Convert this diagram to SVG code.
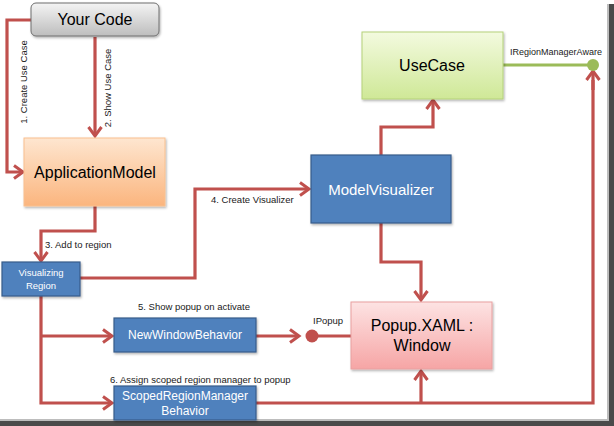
<svg xmlns="http://www.w3.org/2000/svg" width="614" height="426" viewBox="0 0 614 426">
<style>
.c{fill:none;stroke:#c0504d;stroke-width:3.2;stroke-linejoin:miter}
.a{marker-end:url(#arr)}
.t{font-family:"Liberation Sans",Arial,sans-serif;fill:#000}
.lbl{font-family:"Liberation Sans",Arial,sans-serif;font-size:9.5px;fill:#1a1a1a}
.big{font-size:16px;text-anchor:middle}
.wt{font-family:"Liberation Sans",Arial,sans-serif;fill:#fff;text-anchor:middle}
.blue{fill:#4f81bd;stroke:#385d8a;stroke-width:1.2}
</style>
<defs>
<marker id="arr" markerUnits="userSpaceOnUse" markerWidth="12" markerHeight="16" viewBox="0 0 12 16" refX="10" refY="8" orient="auto" overflow="visible">
<path d="M1,1.5 L10,8 L1,14.5" fill="none" stroke="#c0504d" stroke-width="3"/>
</marker>
<linearGradient id="gGray" x1="0" y1="0" x2="0" y2="1"><stop offset="0" stop-color="#f4f4f4"/><stop offset="1" stop-color="#bdbdbd"/></linearGradient>
<linearGradient id="gOr" x1="0" y1="0" x2="0" y2="1"><stop offset="0" stop-color="#fee6d0"/><stop offset="1" stop-color="#fbb57e"/></linearGradient>
<linearGradient id="gGr" x1="0" y1="0" x2="0" y2="1"><stop offset="0" stop-color="#f3fadf"/><stop offset="1" stop-color="#cfe897"/></linearGradient>
<linearGradient id="gPk" x1="0" y1="0" x2="0" y2="1"><stop offset="0" stop-color="#fde3e3"/><stop offset="1" stop-color="#f6a5a5"/></linearGradient>
<filter id="sh" x="-10%" y="-10%" width="130%" height="140%"><feDropShadow dx="1" dy="1.5" stdDeviation="1" flood-color="#000" flood-opacity="0.3"/></filter>
</defs>
<rect width="614" height="426" fill="#fff"/>
<!-- frame -->
<rect x="609" y="4" width="5" height="422" fill="#4a4a4a"/>
<rect x="607" y="4" width="2" height="418" fill="#bdbdbd"/>
<rect x="0" y="421" width="614" height="5" fill="#4a4a4a"/>
<rect x="0" y="419" width="609" height="2" fill="#bdbdbd"/>

<g id="connectors">
<polyline class="c a" points="31,20 7,20 7,172 23,172"/>
<line class="c a" x1="95" y1="37" x2="95" y2="136"/>
<polyline class="c a" points="95,206 95,231 41,231 41,261"/>
<polyline class="c a" points="80,278 195,278 195,189 309,189"/>
<polyline class="c a" points="381,155 381,127 433,127 433,100"/>
<polyline class="c a" points="381,223 381,262 421,262 421,300"/>
<polyline class="c a" points="41,296 41,403 112,403"/>
<polyline class="c a" points="41,336 112,336"/>
<line class="c a" x1="256" y1="336" x2="299" y2="336"/>
<line class="c" x1="312" y1="336" x2="351" y2="336"/>
<polyline class="c" points="256,403 593,403 593,80"/>
<line class="c a" x1="593" y1="90" x2="593" y2="71"/>
<line class="c a" x1="421" y1="403" x2="421" y2="371"/>
<line x1="503" y1="65" x2="593" y2="65" stroke="#9bbb59" stroke-width="3"/>
<circle cx="593" cy="65" r="6" fill="#9bbb59"/>
<circle cx="312" cy="336" r="6.5" fill="#c0504d"/>
<text class="lbl" transform="translate(27,82) rotate(-90)" text-anchor="middle">1. Create Use Case</text>
<text class="lbl" transform="translate(111,88) rotate(-90)" text-anchor="middle">2. Show Use Case</text>
<text class="lbl" x="45" y="248">3. Add to region</text>
<text class="lbl" x="211" y="203">4. Create Visualizer</text>
<text class="lbl" x="138" y="310">5. Show popup  on activate</text>
<text class="lbl" x="110" y="383">6. Assign scoped region manager to popup</text>
<text class="lbl" x="510" y="55" font-size="9" textLength="92" lengthAdjust="spacingAndGlyphs">IRegionManagerAware</text>
<text class="lbl" x="313" y="324">IPopup</text>
</g>

<g id="your-code">
<rect x="31" y="3" width="128" height="33" rx="5" fill="url(#gGray)" stroke="#6f6f6f" stroke-width="1" filter="url(#sh)"/>
<text class="t big" x="95" y="25">Your Code</text>
</g>
<g id="application-model">
<rect x="24" y="138" width="141" height="68" fill="url(#gOr)" stroke="#f9c090" stroke-width="1" filter="url(#sh)"/>
<text class="t big" x="95" y="178" font-size="15">ApplicationModel</text>
</g>
<g id="visualizing-region">
<rect class="blue" x="2" y="262" width="78" height="34" filter="url(#sh)"/>
<text class="wt" x="41" y="276" font-size="9.5">Visualizing</text>
<text class="wt" x="41" y="289" font-size="9.5">Region</text>
</g>
<g id="model-visualizer">
<rect class="blue" x="311" y="155" width="140" height="68" filter="url(#sh)"/>
<text class="wt" x="381" y="195" font-size="15">ModelVisualizer</text>
</g>
<g id="usecase">
<rect x="362" y="32" width="141" height="67" fill="url(#gGr)" stroke="#b5d27a" stroke-width="1" filter="url(#sh)"/>
<text class="t big" x="432" y="71">UseCase</text>
</g>
<g id="popup">
<rect x="351" y="302" width="141" height="67" fill="url(#gPk)" stroke="#e9a0a0" stroke-width="1" filter="url(#sh)"/>
<text class="t big" x="422" y="331" font-size="15">Popup.XAML :</text>
<text class="t big" x="422" y="351" font-size="15">Window</text>
</g>
<g id="new-window-behavior">
<rect class="blue" x="114" y="318" width="142" height="34" filter="url(#sh)"/>
<text class="wt" x="185" y="339" font-size="12">NewWindowBehavior</text>
</g>
<g id="scoped-region-manager-behavior">
<rect class="blue" x="114" y="386" width="142" height="34" filter="url(#sh)"/>
<text class="wt" x="185" y="400" font-size="12">ScopedRegionManager</text>
<text class="wt" x="185" y="415" font-size="12">Behavior</text>
</g>
</svg>
